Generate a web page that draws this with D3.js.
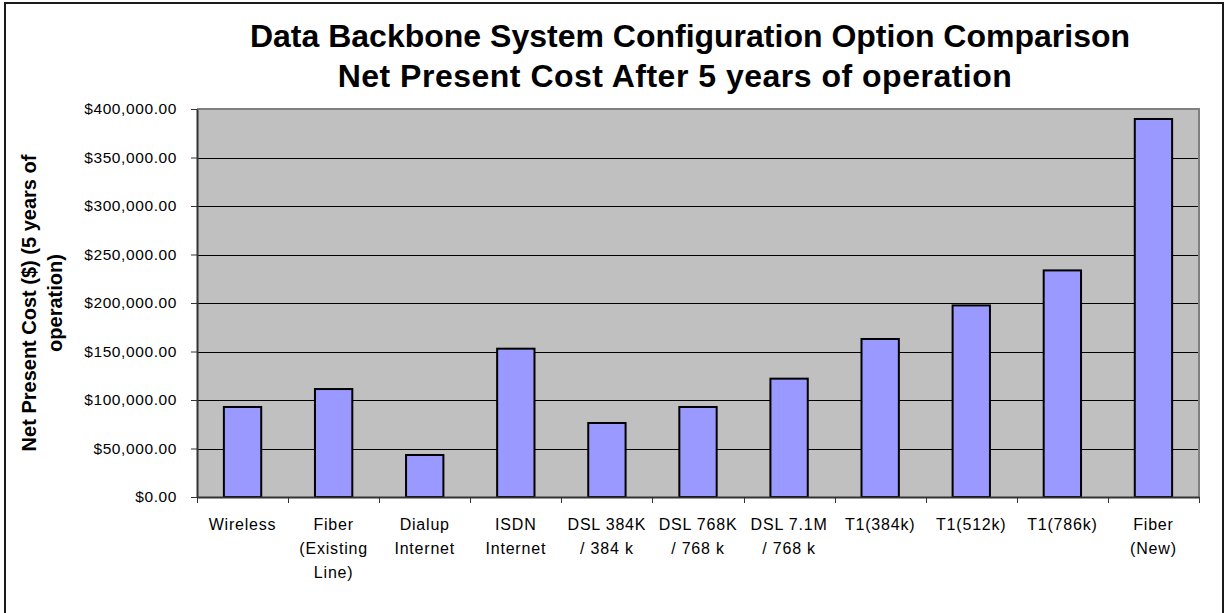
<!DOCTYPE html>
<html>
<head>
<meta charset="utf-8">
<script src="https://cdn.jsdelivr.net/npm/d3@7"></script>
<style>
  html, body { margin: 0; padding: 0; background: #ffffff; }
  svg { display: block; font-family: "Liberation Sans", Arial, Helvetica, sans-serif; }
</style>
</head>
<body>
<svg id="chart" width="1230" height="613"></svg>
<script>
// Configuration options (line breaks mark wrapped label lines)
const categories = [
  "Wireless",
  "Fiber\n(Existing\nLine)",
  "Dialup\nInternet",
  "ISDN\nInternet",
  "DSL 384K\n/ 384 k",
  "DSL 768K\n/ 768 k",
  "DSL 7.1M\n/ 768 k",
  "T1(384k)",
  "T1(512k)",
  "T1(786k)",
  "Fiber\n(New)"
];

// Net present cost after 5 years of operation, in dollars
const netPresentCost = [
  92800, 111300, 43300, 152900, 76300, 92800, 122000,
  162900, 197500, 233600, 389700
];

const yTickValues = [0, 50000, 100000, 150000, 200000, 250000, 300000, 350000, 400000];

const titleLines = [
  "Data Backbone System Configuration Option Comparison",
  "Net Present Cost After 5 years of operation"
];
const yTitleLines = ["Net Present Cost ($) (5 years of", "operation)"];

const svg = d3.select("#chart");

const plot = { left: 197, right: 1199, top: 109, bottom: 497 };

const x = d3.scaleBand()
  .domain(categories)
  .range([plot.left, plot.right])
  .paddingInner(0)
  .paddingOuter(0);

const y = d3.scaleLinear()
  .domain([0, 400000])
  .range([plot.bottom, plot.top]);

// Outer chart frame
svg.append("rect")
  .attr("x", 5).attr("y", 3)
  .attr("width", 1218).attr("height", 640)
  .attr("fill", "#ffffff")
  .attr("stroke", "#1a1a1a")
  .attr("stroke-width", 2);

// Plot area background
svg.append("rect")
  .attr("x", plot.left).attr("y", plot.top)
  .attr("width", plot.right - plot.left)
  .attr("height", plot.bottom - plot.top)
  .attr("fill", "#c0c0c0");

// Horizontal gridlines
svg.append("g")
  .selectAll("line")
  .data(yTickValues.filter(v => v > 0 && v < 400000))
  .join("line")
  .attr("x1", plot.left).attr("x2", plot.right)
  .attr("y1", d => Math.round(y(d)) + 0.5)
  .attr("y2", d => Math.round(y(d)) + 0.5)
  .attr("stroke", "#000000")
  .attr("stroke-width", 1);

// Plot area border (top and right)
svg.append("path")
  .attr("d", `M${plot.left},${plot.top}H${plot.right}V${plot.bottom}`)
  .attr("fill", "none")
  .attr("stroke", "#808080")
  .attr("stroke-width", 2);

// Bars
const barWidth = x.bandwidth() * 0.41;
svg.append("g")
  .selectAll("rect")
  .data(categories)
  .join("rect")
  .attr("x", d => x(d) + (x.bandwidth() - barWidth) / 2)
  .attr("y", (d, i) => y(netPresentCost[i]))
  .attr("width", barWidth)
  .attr("height", (d, i) => y(0) - y(netPresentCost[i]))
  .attr("fill", "#9999ff")
  .attr("stroke", "#000000")
  .attr("stroke-width", 2);

// Y axis
const yAxis = svg.append("g")
  .attr("transform", `translate(${plot.left},0)`)
  .call(d3.axisLeft(y)
    .tickValues(yTickValues)
    .tickFormat(d3.format("$,.2f"))
    .tickSizeInner(6)
    .tickSizeOuter(0)
    .tickPadding(14));
yAxis.select(".domain").attr("stroke", "#333333").attr("stroke-width", 2);
yAxis.selectAll(".tick line").attr("stroke", "#333333").attr("stroke-width", 1);
yAxis.selectAll(".tick text")
  .attr("fill", "#000000")
  .style("font-size", "15.5px")
  .style("letter-spacing", "0.6px");

// X axis baseline and boundary ticks
const xAxis = svg.append("g")
  .attr("transform", `translate(0,${plot.bottom})`)
  .call(d3.axisBottom(x).tickSize(0).tickFormat(""));
xAxis.select(".domain").attr("stroke", "#333333").attr("stroke-width", 2);

const boundaries = categories.map(c => x(c)).concat([x.range()[1]]);
svg.append("g")
  .selectAll("line")
  .data(boundaries)
  .join("line")
  .attr("x1", d => Math.round(d) + 0.5).attr("x2", d => Math.round(d) + 0.5)
  .attr("y1", plot.bottom).attr("y2", plot.bottom + 6)
  .attr("stroke", "#333333")
  .attr("stroke-width", 1);

// Category labels, one tspan per wrapped line
const catLabels = svg.append("g")
  .selectAll("text")
  .data(categories)
  .join("text")
  .attr("x", d => x(d) + x.bandwidth() / 2)
  .attr("y", 530)
  .attr("text-anchor", "middle")
  .style("font-size", "16px")
  .style("letter-spacing", "0.8px")
  .attr("fill", "#000000");
catLabels.selectAll("tspan")
  .data(d => d.split("\n"))
  .join("tspan")
  .attr("x", function () { return d3.select(this.parentNode).attr("x"); })
  .attr("dy", (d, i) => i === 0 ? 0 : 24)
  .text(d => d);

// Chart title
svg.append("g")
  .selectAll("text")
  .data(titleLines)
  .join("text")
  .attr("x", (d, i) => i === 0 ? 690 : 675)
  .attr("y", (d, i) => i === 0 ? 47 : 87)
  .attr("text-anchor", "middle")
  .style("font-size", "32px")
  .style("font-weight", "bold")
  .style("letter-spacing", (d, i) => i === 0 ? "0px" : "0.5px")
  .attr("fill", "#000000")
  .text(d => d);

// Y axis title, rotated
const yCenter = (plot.top + plot.bottom) / 2;
svg.append("g")
  .selectAll("text")
  .data(yTitleLines)
  .join("text")
  .attr("transform", (d, i) => `translate(${i === 0 ? 36 : 62},${yCenter}) rotate(-90)`)
  .attr("text-anchor", "middle")
  .style("font-size", "20px")
  .style("font-weight", "bold")
  .attr("fill", "#000000")
  .text(d => d);
</script>
</body>
</html>
